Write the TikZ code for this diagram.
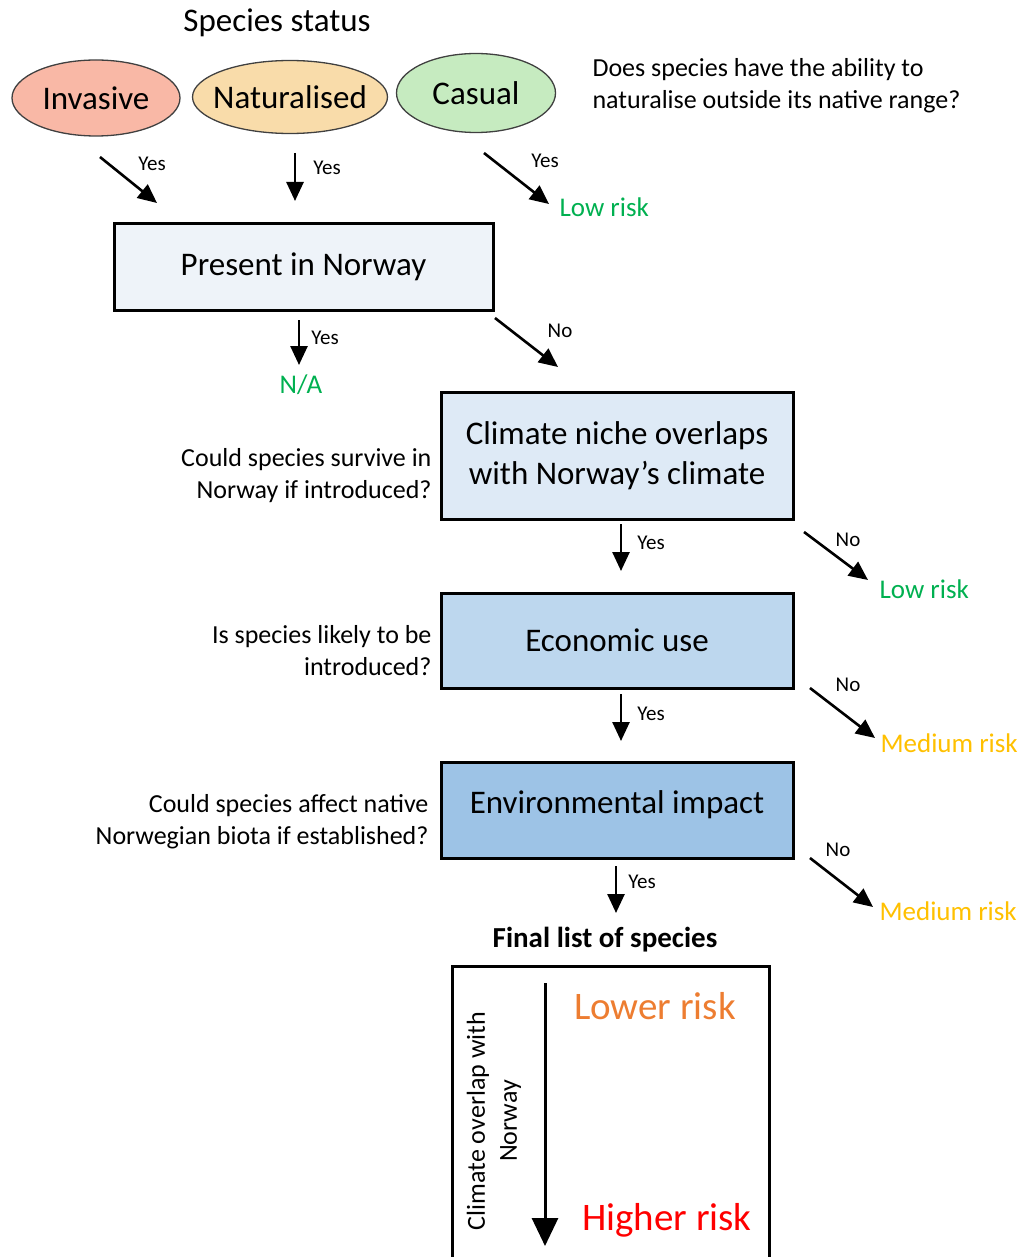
\documentclass[tikz,border=0pt]{standalone}
\usepackage{fontspec}
\setmainfont{Carlito}
\usetikzlibrary{arrows.meta,shapes.geometric}
\definecolor{invfill}{HTML}{F9B8A6}
\definecolor{natfill}{HTML}{F9DCAA}
\definecolor{casfill}{HTML}{C6EBC0}
\definecolor{presfill}{HTML}{EEF3F9}
\definecolor{climfill}{HTML}{DEEAF6}
\definecolor{ecofill}{HTML}{BDD7EE}
\definecolor{envfill}{HTML}{9DC3E6}
\definecolor{riskgreen}{HTML}{00B050}
\definecolor{riskyellow}{HTML}{FFC000}
\definecolor{riskorange}{HTML}{ED7D31}
\definecolor{riskred}{HTML}{FF0000}
\begin{document}
\begin{tikzpicture}[x=1pt,y=-1pt,
  status/.style={ellipse,draw=black!75,line width=1.3pt,inner xsep=-10pt,inner ysep=0pt,font=\fontsize{33}{35}\selectfont},
  stepbox/.style={draw,line width=3pt,align=center,minimum width=352pt,font=\fontsize{33}{40}\selectfont},
  flow/.style={line width=2.6pt,-{Triangle[length=19pt,width=17pt]}},
  answer/.style={font=\fontsize{21}{21}\selectfont},
  question/.style={align=right,font=\fontsize{26}{32}\selectfont},
  risk/.style={font=\fontsize{27}{27}\selectfont}]
	\useasboundingbox (0,0) rectangle (1025,1257);
	% species status
	\node[font=\fontsize{33}{35}\selectfont] (title) at (277,23) {Species status};
	\node[status,fill=invfill,minimum width=168pt,minimum height=76pt] (invasive) at (96,98) {Invasive};
	\node[status,fill=natfill,minimum width=195pt,minimum height=73pt] (naturalised) at (290,97) {Naturalised};
	\node[status,fill=casfill,minimum width=159pt,minimum height=79pt] (casual) at (476,93) {Casual};
	\node[align=left,font=\fontsize{26}{32}\selectfont,anchor=west] (q-native) at (589,86) {Does species have the ability to\\naturalise outside its native range?};
	% steps
	\node[stepbox,fill=presfill,minimum width=379pt,minimum height=86pt] (present) at (303.5,267) {Present in Norway};
	\node[stepbox,fill=climfill,minimum height=127pt] (climate) at (617,455.5) {Climate niche overlaps\\with Norway’s climate};
	\node[stepbox,fill=ecofill,minimum height=95pt] (economic) at (617,640.5) {Economic use};
	\node[stepbox,fill=envfill,minimum height=96pt,text depth=16pt] (environment) at (617,810) {Environmental impact};
	\node[question,anchor=east] (q-survive) at (435,476) {Could species survive in\\Norway if introduced?};
	\node[question,anchor=east] (q-introduced) at (435,651) {Is species likely to be\\introduced?};
	\node[question,anchor=east] (q-affect) at (432,822) {Could species affect native\\Norwegian biota if established?};
	% arrow ends
	\coordinate (inv-s) at (100,157);  \coordinate (inv-e) at (157,203);
	\coordinate (nat-s) at (295,153);  \coordinate (nat-e) at (295,201);
	\coordinate (cas-s) at (484,153);  \coordinate (cas-e) at (549,204);
	\coordinate (pres-y-s) at (299,320); \coordinate (pres-y-e) at (299,365);
	\coordinate (pres-n-s) at (495,318); \coordinate (pres-n-e) at (558,367);
	\coordinate (clim-y-s) at (621,524); \coordinate (clim-y-e) at (621,571);
	\coordinate (clim-n-s) at (804,532); \coordinate (clim-n-e) at (868,580);
	\coordinate (eco-y-s) at (621,694);  \coordinate (eco-y-e) at (621,741);
	\coordinate (eco-n-s) at (810,688);  \coordinate (eco-n-e) at (875,738);
	\coordinate (env-y-s) at (616,866);  \coordinate (env-y-e) at (616,913);
	\coordinate (env-n-s) at (810,858);  \coordinate (env-n-e) at (873,907);
	\draw[flow] (inv-s) -- (inv-e);
	\draw[flow] (nat-s) -- (nat-e);
	\draw[flow] (cas-s) -- (cas-e);
	\draw[flow] (pres-y-s) -- (pres-y-e);
	\draw[flow] (pres-n-s) -- (pres-n-e);
	\draw[flow] (clim-y-s) -- (clim-y-e);
	\draw[flow] (clim-n-s) -- (clim-n-e);
	\draw[flow] (eco-y-s) -- (eco-y-e);
	\draw[flow] (eco-n-s) -- (eco-n-e);
	\draw[flow] (env-y-s) -- (env-y-e);
	\draw[flow] (env-n-s) -- (env-n-e);
	% answers
	\node[answer] (inv-yes) at (152,164) {Yes};
	\node[answer] (nat-yes) at (327,168) {Yes};
	\node[answer] (cas-yes) at (545,161) {Yes};
	\node[answer] (pres-yes) at (325,338) {Yes};
	\node[answer] (pres-no) at (560,331) {No};
	\node[answer] (clim-yes) at (651,543) {Yes};
	\node[answer] (clim-no) at (848,540) {No};
	\node[answer] (eco-yes) at (651,714) {Yes};
	\node[answer] (eco-no) at (848,685) {No};
	\node[answer] (env-yes) at (642,882) {Yes};
	\node[answer] (env-no) at (838,850) {No};
	% outcomes
	\node[risk,text=riskgreen,anchor=west] (low-1) at (556,207) {Low risk};
	\node[risk,text=riskgreen] (na) at (301,385) {N/A};
	\node[risk,text=riskgreen,anchor=west] (low-2) at (876,589) {Low risk};
	\node[risk,text=riskyellow,anchor=west] (medium-1) at (877,743) {Medium risk};
	\node[risk,text=riskyellow,anchor=west] (medium-2) at (876,911) {Medium risk};
	% final list
	\node[font=\bfseries\fontsize{29}{31}\selectfont] (final) at (605,940) {Final list of species};
	\node[draw,line width=3pt,minimum width=317pt,minimum height=330pt,anchor=north] (finalbox) at (610.5,965) {};
	\coordinate (rank-s) at (545,983); \coordinate (rank-e) at (545,1246);
	\draw[line width=3pt,-{Triangle[length=28pt,width=26pt]}] (rank-s) -- (rank-e);
	\node[rotate=90,align=center,font=\fontsize{26}{32}\selectfont] (overlap) at (494,1121) {Climate overlap with\\Norway};
	\node[text=riskorange,font=\fontsize{39}{41}\selectfont] (lower) at (655,1006) {Lower risk};
	\node[text=riskred,font=\fontsize{39}{41}\selectfont] (higher) at (667,1220) {Higher risk};
\end{tikzpicture}
\end{document}
